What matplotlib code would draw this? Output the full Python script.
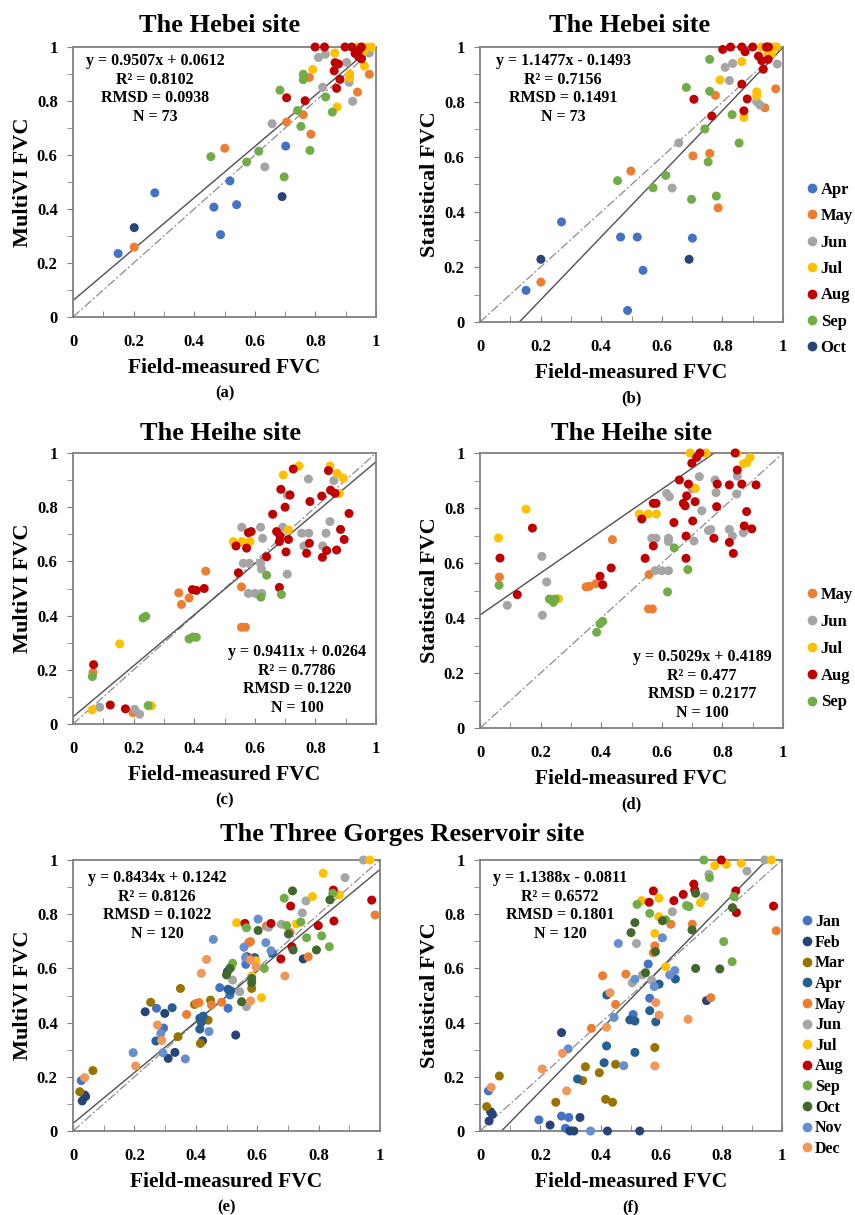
import matplotlib
matplotlib.use("Agg")
import matplotlib.pyplot as plt
from matplotlib.lines import Line2D
import numpy as np

plt.rcParams['font.family'] = ['Liberation Serif', 'DejaVu Serif']
plt.rcParams['font.weight'] = 'bold'

# ---------------- data ----------------
# Hebei site, MultiVI (a)
hebei_mv_x = [0.149, 0.270, 0.465, 0.487, 0.518, 0.540, 0.702,
              0.202, 0.501, 0.705, 0.760, 0.785, 0.780, 0.939, 0.978,
              0.633, 0.657, 0.810, 0.833, 0.824, 0.903, 0.911, 0.923, 0.978,
              0.864, 0.791, 0.913, 0.913, 0.962, 0.872, 0.940, 0.955, 0.972, 0.985, 0.960,
              0.799, 0.830, 0.898, 0.920, 0.952, 0.931, 0.942, 0.952, 0.865, 0.876, 0.862, 0.881, 0.870, 0.766, 0.705, 0.945,
              0.455, 0.573, 0.613, 0.697, 0.683, 0.741, 0.752, 0.760, 0.760, 0.782, 0.834, 0.856,
              0.202, 0.690]
hebei_mv_y = [0.235, 0.460, 0.407, 0.305, 0.504, 0.416, 0.633,
              0.259, 0.625, 0.722, 0.749, 0.677, 0.887, 0.833, 0.899,
              0.556, 0.716, 0.961, 0.973, 0.851, 0.943, 0.869, 0.799, 0.978,
              0.978, 0.917, 0.900, 0.886, 0.929, 0.778, 1.0, 0.990, 1.0, 1.0, 0.985,
              1.0, 1.0, 1.0, 1.0, 1.0, 0.976, 0.965, 0.956, 0.942, 0.937, 0.912, 0.880, 0.847, 0.801, 0.812, 0.990,
              0.594, 0.574, 0.614, 0.519, 0.840, 0.765, 0.706, 0.899, 0.879, 0.617, 0.815, 0.759,
              0.331, 0.446]
hebei_mv_m = ['Apr'] * 7 + ['May'] * 8 + ['Jun'] * 9 + ['Jul'] * 11 + ['Aug'] * 16 + ['Sep'] * 12 + ['Oct'] * 2

# Hebei site, statistical (b)
hebei_st_x = [0.152, 0.269, 0.464, 0.519, 0.538, 0.487, 0.701,
              0.201, 0.498, 0.703, 0.758, 0.786, 0.777, 0.940, 0.976,
              0.634, 0.656, 0.809, 0.834, 0.823, 0.913, 0.924, 0.981,
              0.864, 0.792, 0.913, 0.913, 0.871, 0.930, 0.946, 0.968, 0.979, 0.962, 0.950,
              0.801, 0.827, 0.864, 0.875, 0.900, 0.952, 0.919, 0.930, 0.951, 0.935, 0.864, 0.882, 0.871, 0.765, 0.706, 0.945,
              0.454, 0.571, 0.613, 0.698, 0.681, 0.742, 0.753, 0.758, 0.758, 0.780, 0.832, 0.855,
              0.201, 0.690]
hebei_st_y = [0.115, 0.364, 0.309, 0.309, 0.188, 0.042, 0.305,
              0.145, 0.549, 0.604, 0.613, 0.415, 0.824, 0.779, 0.848,
              0.487, 0.651, 0.926, 0.940, 0.878, 0.801, 0.789, 0.938,
              0.947, 0.880, 0.837, 0.822, 0.744, 1.0, 1.0, 1.0, 1.0, 0.975, 0.975,
              0.991, 1.0, 1.0, 0.983, 1.0, 1.0, 0.967, 0.950, 0.955, 0.919, 0.865, 0.811, 0.768, 0.749, 0.810, 1.0,
              0.514, 0.488, 0.533, 0.446, 0.853, 0.702, 0.582, 0.955, 0.839, 0.458, 0.754, 0.651,
              0.228, 0.228]
hebei_st_m = ['Apr'] * 7 + ['May'] * 8 + ['Jun'] * 8 + ['Jul'] * 11 + ['Aug'] * 16 + ['Sep'] * 12 + ['Oct'] * 2

# Heihe site, MultiVI (c)
heihe_mv_x = [0.066, 0.198, 0.349, 0.358, 0.383, 0.438, 0.556, 0.556, 0.569,
              0.088, 0.204, 0.220, 0.557, 0.562, 0.582, 0.579, 0.601, 0.623, 0.619, 0.626, 0.619, 0.622,
              0.707, 0.692, 0.716, 0.707, 0.755, 0.778, 0.762, 0.777, 0.824, 0.835, 0.848, 0.861,
              0.063, 0.154, 0.259, 0.529, 0.557, 0.584, 0.694, 0.746, 0.848, 0.872, 0.892, 0.879, 0.711,
              0.068, 0.123, 0.173, 0.394, 0.407, 0.433, 0.546, 0.538, 0.573, 0.579, 0.588, 0.639, 0.659,
              0.681, 0.672, 0.683, 0.686, 0.700, 0.703, 0.711, 0.716, 0.727, 0.771, 0.780, 0.782, 0.823,
              0.821, 0.837, 0.843, 0.850, 0.865, 0.870, 0.883, 0.895, 0.911, 0.681,
              0.064, 0.231, 0.240, 0.248, 0.383, 0.396, 0.407, 0.620, 0.639, 0.688]
heihe_mv_y = [0.190, 0.042, 0.484, 0.441, 0.465, 0.564, 0.506, 0.357, 0.357,
              0.062, 0.054, 0.036, 0.726, 0.593, 0.593, 0.482, 0.482, 0.482, 0.726, 0.685, 0.593, 0.572,
              0.553, 0.726, 0.845, 0.845, 0.704, 0.704, 0.657, 0.904, 0.657, 0.704, 0.747, 0.898,
              0.052, 0.296, 0.067, 0.673, 0.673, 0.673, 0.919, 0.952, 0.952, 0.925, 0.907, 0.851, 0.716,
              0.219, 0.070, 0.056, 0.496, 0.493, 0.500, 0.558, 0.657, 0.649, 0.706, 0.710, 0.617, 0.774,
              0.504, 0.710, 0.694, 0.866, 0.800, 0.635, 0.681, 0.845, 0.941, 0.630, 0.667, 0.821, 0.615,
              0.841, 0.640, 0.935, 0.863, 0.851, 0.642, 0.718, 0.681, 0.777, 0.673,
              0.175, 0.391, 0.397, 0.068, 0.314, 0.321, 0.320, 0.468, 0.549, 0.478]
heihe_mv_m = ['May'] * 9 + ['Jun'] * 25 + ['Jul'] * 13 + ['Aug'] * 36 + ['Sep'] * 10

# Heihe site, statistical (d)
heihe_st_x = [0.064, 0.350, 0.361, 0.383, 0.437, 0.558, 0.556, 0.569,
              0.090, 0.204, 0.220, 0.206, 0.724, 0.776, 0.849, 0.616, 0.625, 0.779, 0.847, 0.700, 0.732,
              0.567, 0.581, 0.622, 0.622, 0.706, 0.754, 0.762, 0.823, 0.833, 0.869, 0.578, 0.600, 0.622,
              0.061, 0.152, 0.259, 0.526, 0.555, 0.582, 0.693, 0.746, 0.710, 0.847, 0.870, 0.881, 0.891,
              0.066, 0.173, 0.123, 0.396, 0.405, 0.433, 0.534, 0.545, 0.572, 0.581, 0.572, 0.640, 0.658,
              0.671, 0.677, 0.682, 0.688, 0.680, 0.680, 0.702, 0.710, 0.699, 0.715, 0.726, 0.772, 0.781,
              0.783, 0.823, 0.823, 0.836, 0.842, 0.849, 0.864, 0.872, 0.880, 0.897, 0.911,
              0.063, 0.229, 0.242, 0.248, 0.385, 0.396, 0.405, 0.619, 0.641, 0.686]
heihe_st_y = [0.549, 0.513, 0.515, 0.525, 0.685, 0.558, 0.433, 0.433,
              0.446, 0.624, 0.531, 0.410, 0.914, 0.902, 0.916, 0.853, 0.841, 0.856, 0.851, 0.870, 0.790,
              0.690, 0.690, 0.690, 0.678, 0.680, 0.718, 0.722, 0.722, 0.698, 0.710, 0.572, 0.572, 0.572,
              0.691, 0.796, 0.470, 0.778, 0.778, 0.778, 1.0, 1.0, 0.872, 1.0, 0.961, 0.966, 0.984,
              0.618, 0.727, 0.485, 0.552, 0.521, 0.582, 0.760, 0.617, 0.817, 0.817, 0.662, 0.747, 0.902,
              0.817, 0.808, 0.844, 0.887, 0.698, 0.617, 0.753, 0.823, 0.963, 0.984, 1.0, 0.690, 0.805,
              0.887, 0.884, 0.675, 0.635, 1.0, 0.938, 0.887, 0.735, 0.787, 0.724, 0.884,
              0.519, 0.469, 0.457, 0.469, 0.348, 0.379, 0.388, 0.495, 0.655, 0.576]
heihe_st_m = ['May'] * 8 + ['Jun'] * 26 + ['Jul'] * 13 + ['Aug'] * 37 + ['Sep'] * 10

# Three Gorges Reservoir site, MultiVI (e)
tgr_mv_x = [0.027, 0.272, 0.295, 0.478, 0.511, 0.563, 0.565, 0.505,
            0.038, 0.041, 0.030, 0.235, 0.299, 0.310, 0.332, 0.422, 0.530, 0.750, 0.503,
            0.022, 0.065, 0.253, 0.342, 0.350, 0.396, 0.415, 0.440, 0.448, 0.582,
            0.270, 0.323, 0.413, 0.424, 0.418, 0.413, 0.514, 0.592, 0.649, 0.505,
            0.370, 0.402, 0.411, 0.451, 0.484, 0.578, 0.572, 0.630, 0.707, 0.766, 0.984,
            0.543, 0.520, 0.565, 0.637, 0.679, 0.747, 0.759, 0.886, 0.946,
            0.533, 0.582, 0.596, 0.614, 0.728, 0.780, 0.815, 0.867, 0.967,
            0.560, 0.567, 0.645, 0.677, 0.709, 0.713, 0.799, 0.848, 0.850, 0.973,
            0.520, 0.515, 0.565, 0.623, 0.688, 0.696, 0.742, 0.761, 0.810, 0.835, 0.846,
            0.500, 0.511, 0.549, 0.582, 0.582, 0.603, 0.702, 0.715, 0.717, 0.793, 0.837,
            0.196, 0.286, 0.293, 0.366, 0.443, 0.457, 0.557, 0.603, 0.628, 0.645, 0.562,
            0.038, 0.204, 0.275, 0.289, 0.418, 0.435, 0.578, 0.596, 0.578, 0.690]
tgr_mv_y = [0.186, 0.453, 0.380, 0.529, 0.502, 0.615, 0.643, 0.453,
            0.133, 0.127, 0.111, 0.440, 0.434, 0.268, 0.290, 0.333, 0.354, 0.635, 0.588,
            0.145, 0.223, 0.475, 0.348, 0.526, 0.467, 0.323, 0.409, 0.483, 0.526,
            0.332, 0.455, 0.416, 0.424, 0.401, 0.376, 0.517, 0.640, 0.656, 0.523,
            0.430, 0.471, 0.474, 0.465, 0.475, 0.699, 0.695, 0.756, 0.733, 0.643, 0.797,
            0.514, 0.557, 0.459, 0.752, 0.763, 0.805, 0.849, 0.935, 1.0,
            0.769, 0.572, 0.628, 0.492, 0.764, 0.865, 0.951, 0.871, 1.0,
            0.766, 0.642, 0.766, 0.635, 0.830, 0.680, 0.758, 0.889, 0.775, 0.852,
            0.619, 0.605, 0.750, 0.600, 0.859, 0.758, 0.771, 0.713, 0.720, 0.680, 0.877,
            0.576, 0.600, 0.477, 0.563, 0.547, 0.740, 0.727, 0.886, 0.668, 0.668, 0.853,
            0.289, 0.360, 0.289, 0.266, 0.367, 0.707, 0.678, 0.782, 0.695, 0.665, 0.640,
            0.197, 0.240, 0.391, 0.334, 0.582, 0.633, 0.631, 0.606, 0.480, 0.572]
tgr_mv_m = (['Jan'] * 8 + ['Feb'] * 11 + ['Mar'] * 10 + ['Apr'] * 10 + ['May'] * 11 + ['Jun'] * 9
            + ['Jul'] * 9 + ['Aug'] * 10 + ['Sep'] * 11 + ['Oct'] * 11 + ['Nov'] * 11 + ['Dec'] * 10)

# Three Gorges Reservoir site, statistical (f)
tgr_st_x = [0.028, 0.195, 0.270, 0.294, 0.283, 0.557, 0.562, 0.507,
            0.035, 0.041, 0.030, 0.232, 0.331, 0.298, 0.311, 0.422, 0.529, 0.750, 0.270,
            0.064, 0.022, 0.251, 0.340, 0.349, 0.395, 0.416, 0.439, 0.449, 0.579,
            0.323, 0.411, 0.419, 0.420, 0.496, 0.513, 0.513, 0.562, 0.582, 0.593, 0.647,
            0.369, 0.406, 0.449, 0.483, 0.579, 0.574, 0.632, 0.703, 0.764, 0.981,
            0.504, 0.518, 0.538, 0.568, 0.637, 0.744, 0.758, 0.884, 0.943,
            0.535, 0.579, 0.592, 0.593, 0.615, 0.730, 0.777, 0.816, 0.865, 0.965,
            0.560, 0.574, 0.642, 0.673, 0.708, 0.711, 0.799, 0.847, 0.849, 0.972,
            0.520, 0.562, 0.615, 0.684, 0.692, 0.741, 0.760, 0.807, 0.835, 0.841,
            0.500, 0.513, 0.548, 0.581, 0.604, 0.702, 0.714, 0.714, 0.794, 0.836,
            0.292, 0.366, 0.444, 0.458, 0.476, 0.513, 0.577, 0.604, 0.628, 0.645,
            0.037, 0.206, 0.273, 0.287, 0.419, 0.431, 0.582, 0.593, 0.579, 0.689]
tgr_st_y = [0.148, 0.041, 0.055, 0.050, 0.010, 0.616, 0.490, 0.430,
            0.071, 0.062, 0.037, 0.022, 0.050, 0.0, 0.0, 0.0, 0.0, 0.481, 0.363,
            0.203, 0.090, 0.106, 0.186, 0.237, 0.215, 0.117, 0.106, 0.246, 0.308,
            0.192, 0.252, 0.314, 0.502, 0.410, 0.406, 0.290, 0.444, 0.403, 0.542, 0.561,
            0.379, 0.573, 0.467, 0.579, 0.683, 0.658, 0.763, 0.763, 0.492, 0.739,
            0.547, 0.692, 0.576, 0.557, 0.809, 0.865, 0.947, 0.959, 1.0,
            0.850, 0.729, 0.791, 0.859, 0.606, 0.843, 0.979, 0.984, 0.988, 1.0,
            0.844, 0.886, 0.850, 0.873, 0.911, 0.889, 1.0, 0.886, 0.806, 0.830,
            0.836, 0.803, 0.779, 0.832, 0.828, 1.0, 0.935, 0.699, 0.625, 0.865,
            0.732, 0.769, 0.584, 0.662, 0.776, 0.742, 0.877, 0.600, 0.598, 0.824,
            0.303, 0.0, 0.419, 0.692, 0.241, 0.560, 0.533, 0.713, 0.576, 0.592,
            0.161, 0.229, 0.287, 0.148, 0.383, 0.510, 0.474, 0.428, 0.240, 0.412]
tgr_st_m = (['Jan'] * 8 + ['Feb'] * 11 + ['Mar'] * 10 + ['Apr'] * 11 + ['May'] * 10 + ['Jun'] * 9
            + ['Jul'] * 10 + ['Aug'] * 10 + ['Sep'] * 10 + ['Oct'] * 10 + ['Nov'] * 10 + ['Dec'] * 10)

# trend lines as drawn (slope, intercept) and printed statistics
trend = {'a': (0.9507, 0.0612), 'b': (1.1477, -0.1493), 'c': (0.9411, 0.0264),
         'd': (0.762, 0.411), 'e': (0.937, 0.028), 'f': (1.1388, -0.0811)}
stats_a = ['y = 0.9507x + 0.0612', 'R² = 0.8102', 'RMSD = 0.0938', 'N = 73']
stats_b = ['y = 1.1477x - 0.1493', 'R² = 0.7156', 'RMSD = 0.1491', 'N = 73']
stats_c = ['y = 0.9411x + 0.0264', 'R² = 0.7786', 'RMSD = 0.1220', 'N = 100']
stats_d = ['y = 0.5029x + 0.4189', 'R² = 0.477', 'RMSD = 0.2177', 'N = 100']
stats_e = ['y = 0.8434x + 0.1242', 'R² = 0.8126', 'RMSD = 0.1022', 'N = 120']
stats_f = ['y = 1.1388x - 0.0811', 'R² = 0.6572', 'RMSD = 0.1801', 'N = 120']

hebei_months = ['Apr', 'May', 'Jun', 'Jul', 'Aug', 'Sep', 'Oct']
heihe_months = ['May', 'Jun', 'Jul', 'Aug', 'Sep']
tgr_months = ['Jan', 'Feb', 'Mar', 'Apr', 'May', 'Jun', 'Jul', 'Aug', 'Sep', 'Oct', 'Nov', 'Dec']

hebei_colors = {'Apr': '#4472C4', 'May': '#ED7D31', 'Jun': '#A5A5A5', 'Jul': '#FFC000',
                'Aug': '#C00000', 'Sep': '#70AD47', 'Oct': '#264478'}
tgr_colors = {'Jan': '#4472C4', 'Feb': '#264478', 'Mar': '#997300', 'Apr': '#255E91',
              'May': '#ED7D31', 'Jun': '#A5A5A5', 'Jul': '#FFC000', 'Aug': '#C00000',
              'Sep': '#70AD47', 'Oct': '#43682B', 'Nov': '#698ED0', 'Dec': '#F1975A'}

# ---------------- figure ----------------
W, H = 855, 1215
fig = plt.figure(figsize=(W / 100, H / 100), dpi=100)


def fx(px):
    return px / W


def fy(py):
    return 1 - py / H


def make_ax(l, t, r, b):
    return fig.add_axes([fx(l), fy(b), (r - l) / W, (b - t) / H])


def panel(box, xs, ys, ms, colors, key, stats, stats_pos, ylabel, ylab_x, letter):
    l, t, r, b = box
    ax = make_ax(l, t, r, b)
    ax.set_xlim(0, 1)
    ax.set_ylim(0, 1)
    xx = np.linspace(0, 1, 200)
    ax.plot(xx, xx, color='#8c8c8c', lw=0.9, ls=(0, (7, 2, 1.5, 2)), zorder=2)
    k, c0 = trend[key]
    ax.plot(xx, k * xx + c0, color='#505050', lw=1.0, zorder=2)
    cols = [colors[m] for m in ms]
    ax.scatter(xs, ys, s=42, c=cols, edgecolors='none', zorder=3, clip_on=False)

    ax.set_xticks(np.arange(0, 1.01, 0.2))
    ax.set_yticks(np.arange(0, 1.01, 0.2))
    ax.set_xticks(np.arange(0.1, 1.0, 0.2), minor=True)
    ax.set_yticks(np.arange(0.1, 1.0, 0.2), minor=True)
    labels = ['0', '0.2', '0.4', '0.6', '0.8', '1']
    ax.set_xticklabels(labels, fontsize=12, fontweight='bold')
    ax.set_yticklabels(labels, fontsize=12, fontweight='bold')
    ax.tick_params(axis='x', which='both', direction='in', length=4, color='#808080', pad=12)
    ax.tick_params(axis='y', which='both', direction='out', length=4, color='#808080', pad=7)
    for sp in ax.spines.values():
        sp.set_color('#808080')
        sp.set_linewidth(1.3)

    sx, sy = stats_pos
    fig.text(fx(sx), fy(sy), '\n'.join(stats), ha='center', va='center',
             fontsize=11.5, fontweight='bold', linespacing=1.2)
    cx = (l + r) / 2
    fig.text(fx(ylab_x), fy((t + b) / 2), ylabel, rotation=90, ha='center', va='center',
             fontsize=16, fontweight='bold')
    fig.text(fx(cx), fy(b + 51), 'Field-measured FVC', ha='center', va='center',
             fontsize=15.5, fontweight='bold')
    fig.text(fx(cx), fy(b + 76), letter, ha='center', va='center',
             fontsize=12, fontweight='bold')
    return ax


def month_legend(ax, months, colors, x_px, y_px, fs, spacing):
    handles = [Line2D([], [], ls='none', marker='o', markersize=7, markerfacecolor=colors[m],
                      markeredgecolor='none', label=m) for m in months]
    ax.legend(handles=handles, loc='upper left', bbox_to_anchor=(fx(x_px), fy(y_px)),
              bbox_transform=fig.transFigure, frameon=False, handletextpad=0.0,
              handlelength=1.0, labelspacing=spacing, borderaxespad=0, borderpad=0,
              prop={'size': fs, 'weight': 'bold'})


axa = panel((73, 47, 376, 317), hebei_mv_x, hebei_mv_y, hebei_mv_m, hebei_colors, 'a',
            stats_a, (155, 89), 'MultiVI FVC', 23, '(a)')
axb = panel((480, 47, 783, 322), hebei_st_x, hebei_st_y, hebei_st_m, hebei_colors, 'b',
            stats_b, (563, 89), 'Statistical FVC', 430, '(b)')
axc = panel((73, 453, 376, 724), heihe_mv_x, heihe_mv_y, heihe_mv_m, hebei_colors, 'c',
            stats_c, (297, 680), 'MultiVI FVC', 23, '(c)')
axd = panel((480, 453, 783, 728), heihe_st_x, heihe_st_y, heihe_st_m, hebei_colors, 'd',
            stats_d, (702, 685), 'Statistical FVC', 430, '(d)')
axe = panel((73, 860, 380, 1131), tgr_mv_x, tgr_mv_y, tgr_mv_m, tgr_colors, 'e',
            stats_e, (157, 906), 'MultiVI FVC', 23, '(e)')
axf = panel((480, 860, 782, 1131), tgr_st_x, tgr_st_y, tgr_st_m, tgr_colors, 'f',
            stats_f, (560, 906), 'Statistical FVC', 430, '(f)')

fig.text(fx(220), fy(25), 'The Hebei site', ha='center', va='center', fontsize=19, fontweight='bold')
fig.text(fx(630), fy(25), 'The Hebei site', ha='center', va='center', fontsize=19, fontweight='bold')
fig.text(fx(220), fy(433), 'The Heihe site', ha='center', va='center', fontsize=19, fontweight='bold')
fig.text(fx(631), fy(433), 'The Heihe site', ha='center', va='center', fontsize=19, fontweight='bold')
fig.text(fx(402), fy(835), 'The Three Gorges Reservoir site', ha='center', va='center',
         fontsize=19, fontweight='bold')

month_legend(axb, hebei_months, hebei_colors, 804, 182, 12, 0.62)
month_legend(axd, heihe_months, hebei_colors, 804, 587, 12, 0.65)
month_legend(axf, tgr_months, tgr_colors, 799, 914, 11.5, 0.29)

fig.savefig('out.png', dpi=100)
